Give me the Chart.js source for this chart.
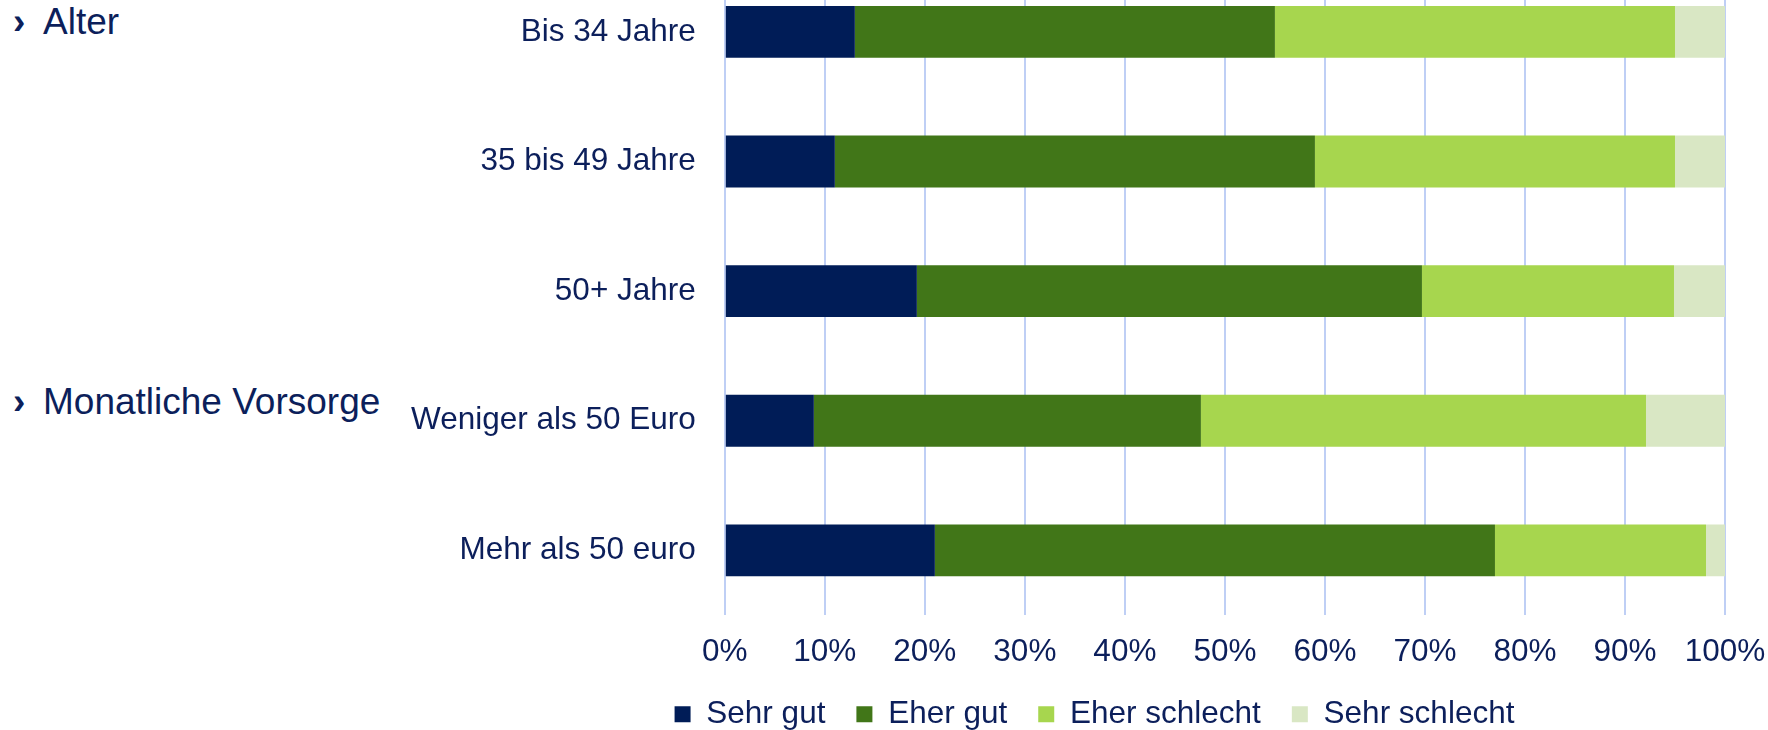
<!DOCTYPE html>
<html lang="de">
<head>
<meta charset="utf-8">
<title>Bewertung nach Alter und monatlicher Vorsorge</title>
<script src="https://cdn.jsdelivr.net/npm/chart.js@4/dist/chart.umd.min.js"></script>
<style>
  html, body { margin: 0; padding: 0; background: #fff; }
  body { width: 1768px; height: 730px; overflow: hidden; position: relative;
         font-family: "Liberation Sans", Arial, sans-serif; color: #0c1f5b; }
  .group { position: absolute; left: 0; font-size: 37px; line-height: 37px; white-space: nowrap; }
  .group .arrow { position: absolute; left: 13px; font-weight: bold; }
  .group .label { position: absolute; left: 43px; }
  #chartBox { position: absolute; left: 410px; top: -33px; width: 1368px; height: 773px; }
</style>
</head>
<body>

<div class="group" style="top:3px"><span class="arrow">›</span><span class="label">Alter</span></div>
<div class="group" style="top:383px"><span class="arrow">›</span><span class="label">Monatliche Vorsorge</span></div>

<div id="chartBox"><canvas id="chart"></canvas></div>

<script>
  /* -------- Data (Prozent je Gruppe) -------- */
  const categories   = ["Bis 34 Jahre", "35 bis 49 Jahre", "50+ Jahre", "Weniger als 50 Euro", "Mehr als 50 euro"];
  const sehrGut      = [13, 11, 19.2, 8.9, 21];
  const eherGut      = [42, 48, 50.5, 38.7, 56];
  const eherSchlecht = [40, 36, 25.2, 44.5, 21.1];
  const sehrSchlecht = [5, 5, 5.1, 7.9, 1.9];
  const seriesNames  = ["Sehr gut", "Eher gut", "Eher schlecht", "Sehr schlecht"];

  const COLORS = {
    navy:      "#001c57",
    darkGreen: "#417618",
    lightGreen:"#a7d64e",
    paleGreen: "#d9e7c4",
    text:      "#0c1f5b",
    grid:      "#bfcff5"
  };

  Chart.defaults.font.family = "'Liberation Sans', Arial, sans-serif";
  Chart.defaults.font.size   = 31.5;
  Chart.defaults.color       = COLORS.text;

  function ds(label, data, color) {
    return {
      label,
      data,
      backgroundColor: color,
      borderWidth: 0,
      barPercentage: 0.4,
      categoryPercentage: 1
    };
  }

  new Chart(document.getElementById("chart"), {
    type: "bar",
    data: {
      labels: categories,
      datasets: [
        ds(seriesNames[0], sehrGut,      COLORS.navy),
        ds(seriesNames[1], eherGut,      COLORS.darkGreen),
        ds(seriesNames[2], eherSchlecht, COLORS.lightGreen),
        ds(seriesNames[3], sehrSchlecht, COLORS.paleGreen)
      ]
    },
    options: {
      indexAxis: "y",
      responsive: true,
      maintainAspectRatio: false,
      devicePixelRatio: 1,
      animation: false,
      layout: { padding: { left: 1, right: 0, top: 0, bottom: 0 } },
      plugins: {
        legend: {
          position: "bottom",
          labels: { boxWidth: 16, boxHeight: 16, padding: 31 }
        },
        tooltip: { enabled: false }
      },
      scales: {
        x: {
          stacked: true,
          min: 0,
          max: 100,
          ticks: { stepSize: 10, padding: 18, callback: v => v + "%" },
          grid: { color: COLORS.grid, lineWidth: 2, drawTicks: false },
          border: { display: false },
          // tick padding is counted twice by Chart.js; pull the legend closer,
          // keep room on the right for the "100%" label (legend stays centred)
          afterFit: s => { s.height -= 21.5; s.paddingRight = 53; }
        },
        y: {
          stacked: true,
          ticks: { padding: 29 },
          grid: { display: false, drawTicks: false },
          border: { display: false },
          afterFit: s => { s.width -= 29; s.paddingTop = 0; s.paddingBottom = 0; }
        }
      }
    }
  });
</script>
</body>
</html>
